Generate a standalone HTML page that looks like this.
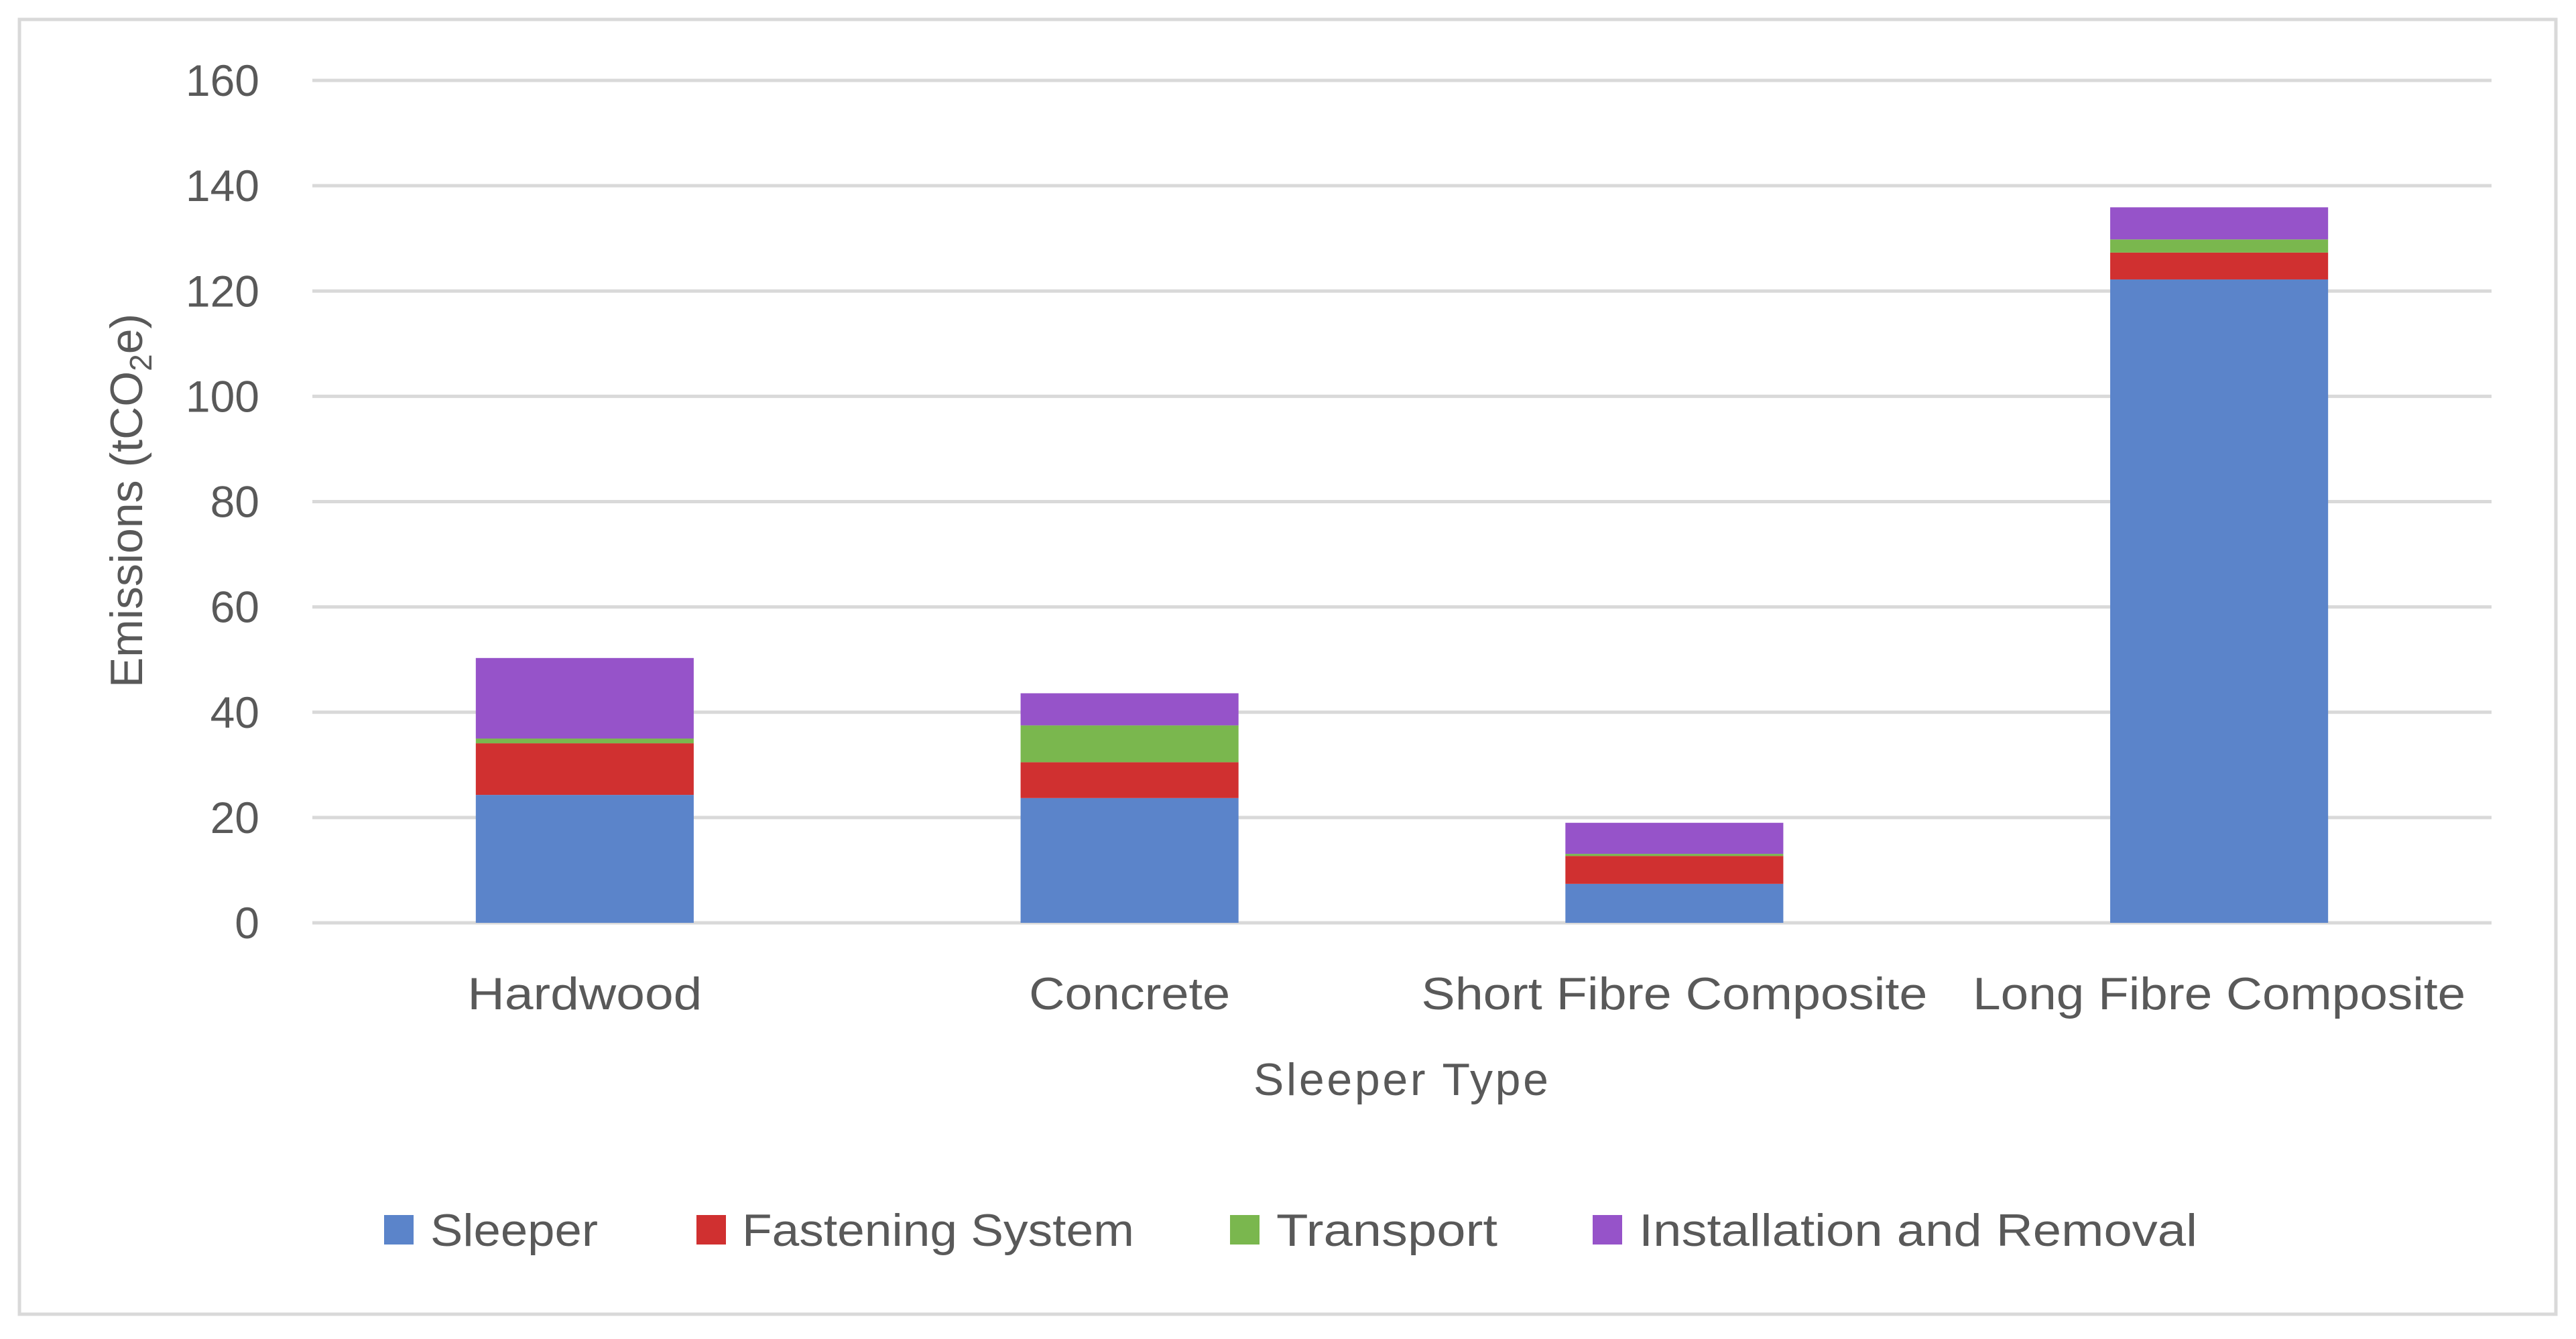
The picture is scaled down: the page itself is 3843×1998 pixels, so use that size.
<!DOCTYPE html>
<html><head><meta charset="utf-8"><style>
html,body{margin:0;padding:0;background:#fff;}
svg{display:block;}
text{font-family:"Liberation Sans",sans-serif;fill:#595959;}
</style></head><body>
<svg id="chart" width="3843" height="1998" viewBox="0 0 3843 1998" xmlns="http://www.w3.org/2000/svg">
<rect x="29" y="29" width="3784" height="1932" fill="#fff" stroke="#d9d9d9" stroke-width="5"/>
<g id="grid"></g>
<g id="bars"></g>
<g id="ylabels"></g>
<g id="xlabels"></g>
<text x="0" y="0" transform="translate(212,747) rotate(-90)" text-anchor="middle" font-size="68">Emissions (tCO<tspan font-size="46" dy="14">2</tspan><tspan dy="-14">e)</tspan></text>
<text x="2090" y="1634" text-anchor="middle" font-size="68" textLength="440">Sleeper Type</text>
<g id="legend"></g>
</svg>
<script>
const categories = ["Hardwood", "Concrete", "Short Fibre Composite", "Long Fibre Composite"];
const seriesNames = ["Sleeper", "Fastening System", "Transport", "Installation and Removal"];
const sleeper = [24.3, 23.7, 7.4, 122.2];
const fastening = [9.8, 6.8, 5.3, 5.1];
const transport = [0.9, 7.0, 0.4, 2.5];
const installation = [15.3, 6.1, 5.9, 6.1];
const yTicks = [0, 20, 40, 60, 80, 100, 120, 140, 160];

const colors = ["#5b84ca", "#d03030", "#7ab74e", "#9653c9"];
const series = [sleeper, fastening, transport, installation];
const NS = "http://www.w3.org/2000/svg";
const plotL = 466, plotR = 3717, plotTop = 120, plotBot = 1377, yMax = 160;
const y = v => plotBot - (v / yMax) * (plotBot - plotTop);
const band = (plotR - plotL) / categories.length;
const xc = i => plotL + band * (i + 0.5);
const barW = band * 0.4;
function mk(tag, attrs, parent) {
  const e = document.createElementNS(NS, tag);
  for (const k in attrs) e.setAttribute(k, attrs[k]);
  parent.appendChild(e);
  return e;
}
const grid = document.getElementById('grid');
const yl = document.getElementById('ylabels');
yTicks.forEach(t => {
  const l = mk('line', {x1: plotL, x2: plotR, y1: y(t), y2: y(t), stroke: '#d9d9d9', 'stroke-width': 5}, grid);
  
  
  const tx = mk('text', {x: 387, y: y(t) + 23, 'text-anchor': 'end', 'font-size': 66}, yl);
  tx.textContent = t;
  
  
});
const bars = document.getElementById('bars');
categories.forEach((c, i) => {
  let base = 0;
  series.forEach((s, j) => {
    const v = s[i];
    const r = mk('rect', {x: xc(i) - barW / 2, y: y(base + v), width: barW, height: y(base) - y(base + v), fill: colors[j]}, bars);
    
    
    base += v;
  });
});
const xl = document.getElementById('xlabels');
const xlw = [350, 300, 755, 735];
categories.forEach((c, i) => {
  const t = mk('text', {x: xc(i), y: 1506, 'text-anchor': 'middle', 'font-size': 68, textLength: xlw[i], lengthAdjust: 'spacingAndGlyphs'}, xl);
  t.textContent = c;
  
  
});
const lg = document.getElementById('legend');
const lgSw = [573, 1039, 1835, 2376];
const lgTx = [642, 1107, 1904, 2445];
const lgW = [250, 585, 330, 833];
seriesNames.forEach((n, j) => {
  const r = mk('rect', {x: lgSw[j], y: 1813, width: 44, height: 44, fill: colors[j]}, lg);
  
  
  const t = mk('text', {x: lgTx[j], y: 1859, 'font-size': 68, textLength: lgW[j], lengthAdjust: 'spacingAndGlyphs'}, lg);
  t.textContent = n;
  
  
});
</script>
</body></html>
